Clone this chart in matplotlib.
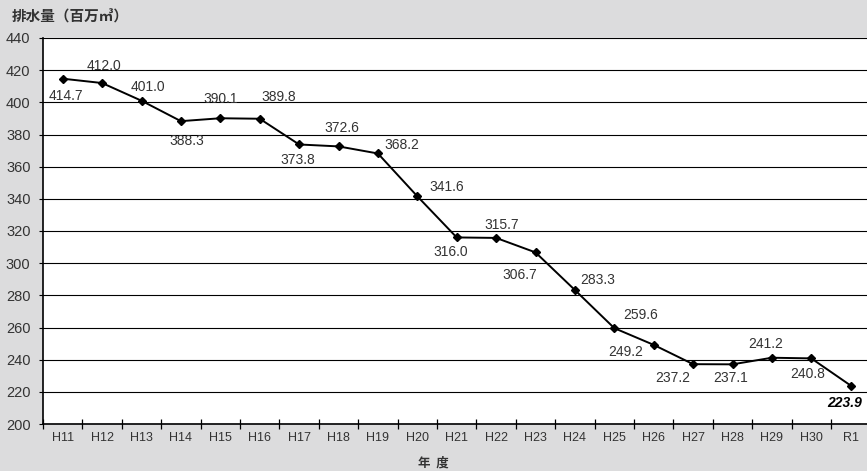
import matplotlib.pyplot as plt

# 排水量の推移 (H11 - R1)
years = ['H11', 'H12', 'H13', 'H14', 'H15', 'H16', 'H17', 'H18', 'H19', 'H20', 'H21',
         'H22', 'H23', 'H24', 'H25', 'H26', 'H27', 'H28', 'H29', 'H30', 'R1']
volume = [414.7, 412.0, 401.0, 388.3, 390.1, 389.8, 373.8, 372.6, 368.2, 341.6, 316.0,
          315.7, 306.7, 283.3, 259.6, 249.2, 237.2, 237.1, 241.2, 240.8, 223.9]

# label offsets in pixels (dx, dy; dy positive = down)
offsets = [(3, 17), (2, -17), (6, -14), (6, 20), (0, -19), (19, -22), (-1, 16), (3, -18),
           (24, -8), (29, -9), (-6, 15), (6, -13), (-16, 23), (23, -10), (26, -13),
           (-28, 7), (-20, 14), (-2, 14), (-6, -14), (-4, 16), (-6, 17)]

bg = '#dcdcdd'
txt = '#333333'

fig = plt.figure(figsize=(8.67, 4.71), dpi=100)
fig.patch.set_facecolor(bg)
ax = fig.add_axes([43 / 867, 1 - 424 / 471, 827.4 / 867, 386 / 471])
ax.set_facecolor('white')

x = list(range(len(years)))
ax.plot(x, volume, color='black', lw=1.4, marker='D', markersize=4.5, zorder=3, clip_on=False)

for i, (v, (dx, dy)) in enumerate(zip(volume, offsets)):
    last = i == len(volume) - 1
    ax.annotate(f'{v:.1f}', (i, v), xytext=(dx, -dy), textcoords='offset pixels',
                ha='center', va='center', fontsize=10, color=txt if not last else 'black',
                family='Liberation Sans',
                fontweight='bold' if last else 'normal',
                fontstyle='italic' if last else 'normal')

ax.set_xlim(-0.5, len(years) - 0.5)
ax.set_ylim(200, 440)
ax.set_yticks(range(200, 441, 20))
ax.grid(axis='y', color='black', lw=0.8)
ax.set_axisbelow(True)

# ticks at category boundaries, labels at centres
ax.set_xticks([i - 0.5 for i in range(len(years) + 1)])
ax.set_xticklabels([])
ax.set_xticks(x, minor=True)
ax.set_xticklabels(years, minor=True, fontsize=9, color=txt, family='Liberation Sans')
ax.tick_params(axis='x', which='major', direction='inout', length=7, width=0.9)
ax.tick_params(axis='x', which='minor', length=0, pad=6)
ax.tick_params(axis='y', direction='out', length=3, width=0.8, pad=6, labelsize=10.5,
               labelcolor=txt)
for lab in ax.get_yticklabels():
    lab.set_family('Liberation Sans')

for side in ['top', 'right']:
    ax.spines[side].set_visible(False)
ax.spines['left'].set_linewidth(1.2)
ax.spines['bottom'].set_linewidth(1.2)

fig.text(12 / 867, 1 - 17 / 471, '排水量（百万㎥）', fontsize=10.5, fontweight='bold', color=txt,
         family=['Noto Sans CJK JP', 'DejaVu Sans'], ha='left', va='center')
fig.text(433 / 867, 1 - 463 / 471, '年  度', fontsize=9, fontweight='bold', color=txt,
         family=['Noto Sans CJK JP', 'DejaVu Sans'], ha='center', va='center')

fig.savefig('out.png', dpi=100, facecolor=bg)
